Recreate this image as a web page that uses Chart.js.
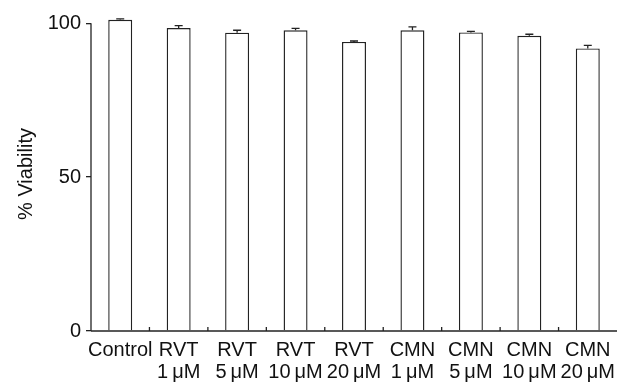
<!DOCTYPE html>
<html>
<head>
<meta charset="utf-8">
<script src="https://cdn.jsdelivr.net/npm/chart.js@4.4.1/dist/chart.umd.min.js"></script>
<style>
  html, body { margin: 0; padding: 0; background: #fff; }
  #wrap { width: 629px; height: 387px; }
</style>
</head>
<body>
<div id="wrap"><canvas id="viabilityChart"></canvas></div>
<script>
// groups and their two-line tick labels
var groups = ['Control', 'RVT 1', 'RVT 5', 'RVT 10', 'RVT 20', 'CMN 1', 'CMN 5', 'CMN 10', 'CMN 20'];
var tickLabels = [
  ['Control', ''],
  ['RVT', '1\u2009\u03bcM'],
  ['RVT', '5\u2009\u03bcM'],
  ['RVT', '10\u2009\u03bcM'],
  ['RVT', '20\u2009\u03bcM'],
  ['CMN', '1\u2009\u03bcM'],
  ['CMN', '5\u2009\u03bcM'],
  ['CMN', '10\u2009\u03bcM'],
  ['CMN', '20\u2009\u03bcM']
];
var viability = [101.1, 98.4, 96.9, 97.7, 93.9, 97.7, 97.0, 95.9, 91.8];
var viabilityErr = [0.3, 0.8, 0.8, 0.6, 0.3, 1.1, 0.3, 0.5, 1.0];
var yTicks = [0, 50, 100];

var fontFam = '"Liberation Sans", Arial, sans-serif';

// axis lines, small category ticks and error bars
var extras = {
  id: 'extras',
  afterDatasetsDraw(chart) {
    var ctx = chart.ctx;
    var xs = chart.scales.x, ys = chart.scales.y;
    var y0 = ys.getPixelForValue(0);
    ctx.save();
    ctx.strokeStyle = '#222';
    ctx.lineWidth = 1.3;
    // y axis line 0..100
    ctx.beginPath();
    ctx.moveTo(xs.left, y0);
    ctx.lineTo(xs.left, ys.getPixelForValue(100));
    ctx.stroke();
    // x axis line
    ctx.beginPath();
    ctx.moveTo(xs.left, y0);
    ctx.lineTo(xs.right, y0);
    ctx.stroke();
    // small ticks between categories
    for (var i = 0; i < groups.length - 1; i++) {
      var bx = (xs.getPixelForTick(i) + xs.getPixelForTick(i + 1)) / 2;
      ctx.beginPath();
      ctx.moveTo(bx, y0);
      ctx.lineTo(bx, y0 - 4);
      ctx.stroke();
    }
    // error bars
    var meta = chart.getDatasetMeta(0);
    meta.data.forEach(function (bar, i) {
      var top = ys.getPixelForValue(viability[i] + viabilityErr[i]);
      ctx.beginPath();
      ctx.moveTo(bar.x, bar.y);
      ctx.lineTo(bar.x, top);
      ctx.moveTo(bar.x - 4, top);
      ctx.lineTo(bar.x + 4, top);
      ctx.stroke();
    });
    ctx.restore();
  }
};

var ctx = document.getElementById('viabilityChart').getContext('2d');
var chart = new Chart(ctx, {
  type: 'bar',
  data: {
    labels: tickLabels,
    datasets: [{
      label: '% Viability',
      data: viability,
      backgroundColor: '#ffffff',
      borderColor: '#222',
      borderWidth: 1.4,
      barPercentage: 0.41,
      categoryPercentage: 1.0
    }]
  },
  options: {
    responsive: true,
    maintainAspectRatio: false,
    animation: false,
    layout: { padding: { top: 14, right: 12, left: 0, bottom: 0 } },
    plugins: {
      legend: { display: false },
      tooltip: { enabled: false }
    },
    scales: {
      x: {
        grid: { display: false },
        border: { display: false },
        ticks: {
          color: '#111',
          font: { family: fontFam, size: 20, lineHeight: 1.13 },
          padding: 0,
          maxRotation: 0,
          autoSkip: false
        },
        afterFit(scale) { scale.height = 56; }
      },
      y: {
        min: 0,
        max: 102,
        border: { display: false },
        grid: {
          drawOnChartArea: false,
          color: '#222',
          lineWidth: 1.3,
          tickLength: 5
        },
        ticks: {
          color: '#111',
          font: { family: fontFam, size: 20 },
          padding: 5
        },
        afterBuildTicks(scale) {
          scale.ticks = yTicks.map(function (v) { return { value: v }; });
        },
        afterFit(scale) { scale.width = 91; },
        title: {
          display: true,
          text: '% Viability',
          color: '#111',
          font: { family: fontFam, size: 20 },
          padding: { top: 14, bottom: 0 }
        }
      }
    }
  },
  plugins: [extras]
});
</script>
</body>
</html>
